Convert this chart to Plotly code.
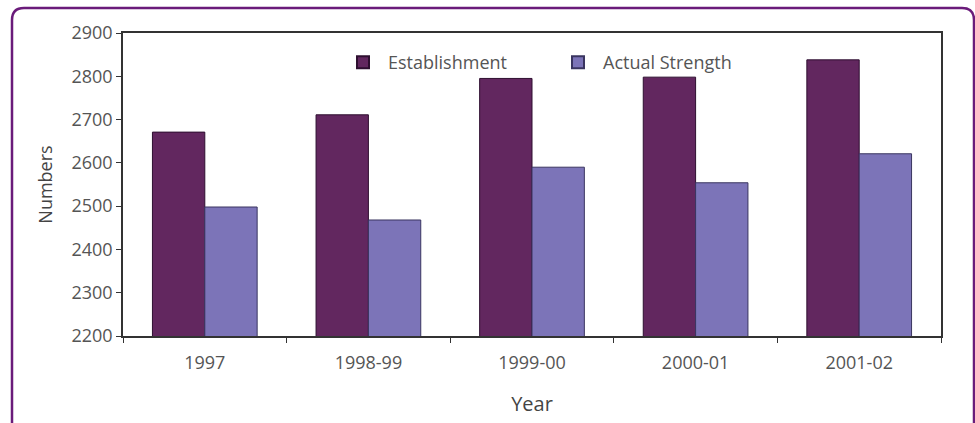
import plotly.graph_objects as go

years = ["1997", "1998-99", "1999-00", "2000-01", "2001-02"]
establishment = [2671, 2711, 2795, 2798, 2838]
actual_strength = [2498, 2468, 2590, 2554, 2621]
y_ticks = [2200, 2300, 2400, 2500, 2600, 2700, 2800, 2900]

W, H = 975, 423
L, R, T, B = 123, 34, 33, 87
pw, ph = W - L - R, H - T - B

def px(x):
    return (x - L) / pw

def py(y):
    return (H - B - y) / ph

fig = go.Figure()
fig.add_bar(
    x=years, y=establishment, name="Establishment",
    marker=dict(color="#62275F", line=dict(color="#2E0F30", width=1)),
)
fig.add_bar(
    x=years, y=actual_strength, name="Actual Strength",
    marker=dict(color="#7C74B8", line=dict(color="#3A3560", width=1)),
)

font = "Open Sans, DejaVu Sans, sans-serif"

# outer rounded border (open at bottom)
rx, ry = 12 / pw, 12 / ph
x0, x1, y0, yb = px(12), px(974), py(8), py(430)
path = (f"M {x0},{yb} L {x0},{y0 - ry} Q {x0},{y0} {x0 + rx},{y0} "
        f"L {x1 - rx},{y0} Q {x1},{y0} {x1},{y0 - ry} L {x1},{yb}")

fig.update_layout(
    width=W, height=H,
    margin=dict(l=L, r=R, t=T, b=B),
    paper_bgcolor="white", plot_bgcolor="white",
    barmode="group", bargap=0.36, bargroupgap=0.0,
    font=dict(family=font, size=18, color="#555555"),
    showlegend=True,
    legend=dict(
        orientation="h", x=px(338), xanchor="left", y=py(44), yanchor="top",
        font=dict(size=18, color="#555555"), bgcolor="rgba(0,0,0,0)",
        itemsizing="constant", entrywidth=160, itemwidth=40,
    ),
    shapes=[dict(type="path", xref="paper", yref="paper", path=path,
                 line=dict(color="#6A1B7A", width=2.5), layer="above")],
    xaxis=dict(
        type="category",
        title=dict(text="Year", font=dict(size=20, color="#444444"), standoff=24),
        showline=True, linecolor="#333333", linewidth=1.5, mirror=True,
        ticks="outside", tickson="boundaries", ticklen=5, tickcolor="#333333",
        ticklabelstandoff=10,
        showgrid=False, tickfont=dict(size=18, color="#555555"),
    ),
    yaxis=dict(
        title=dict(text="Numbers", font=dict(size=18, color="#444444"), standoff=14),
        range=[2200, 2900], tickvals=y_ticks,
        showline=True, linecolor="#333333", linewidth=1.5, mirror=True,
        ticks="outside", ticklen=5, tickcolor="#333333",
        showgrid=False, zeroline=False, tickfont=dict(size=18, color="#555555"),
    ),
)

fig.write_html("out.html")
